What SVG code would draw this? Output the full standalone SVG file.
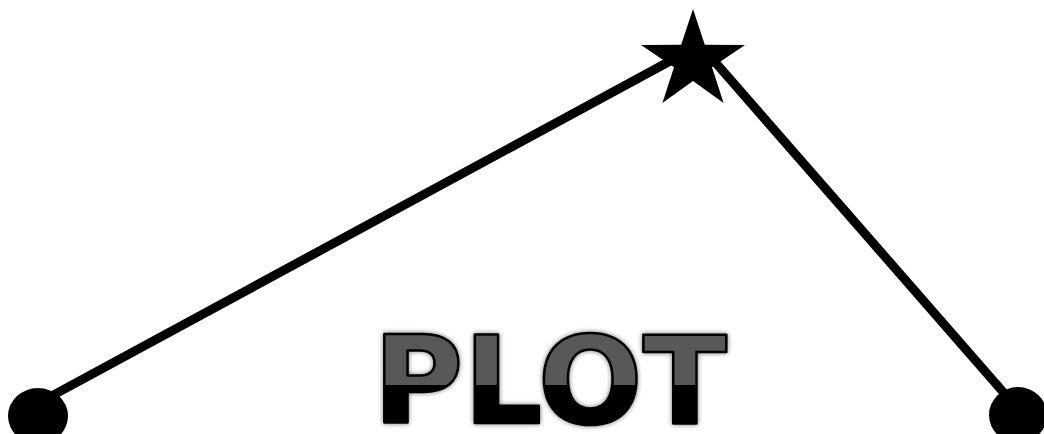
<svg xmlns="http://www.w3.org/2000/svg" width="1044" height="434" viewBox="0 0 1044 434">
  <style>
    .conn { stroke: #000; stroke-width: 9; stroke-linecap: round; fill: none; }
    .dot { fill: #000; }
    .star { fill: #000; }
    .logo { font-family: "DejaVu Sans", "Liberation Sans", sans-serif; font-weight: bold; font-size: 121px; fill: url(#halfFill); stroke: #000; stroke-width: 2.5; stroke-linejoin: round; }
  </style>
  <defs>
    <linearGradient id="halfFill" gradientUnits="userSpaceOnUse" x1="0" y1="335" x2="0" y2="423">
      <stop offset="0" stop-color="#585858"/>
      <stop offset="0.568" stop-color="#585858"/>
      <stop offset="0.568" stop-color="#000000"/>
      <stop offset="1" stop-color="#000000"/>
    </linearGradient>
    <filter id="glow" x="-10%" y="-20%" width="120%" height="140%">
      <feGaussianBlur in="SourceAlpha" stdDeviation="2.5" result="b"/>
      <feComponentTransfer in="b" result="s"><feFuncA type="linear" slope="0.55"/></feComponentTransfer>
      <feMerge><feMergeNode in="s"/><feMergeNode in="SourceGraphic"/></feMerge>
    </filter>
  </defs>
  <rect x="0" y="0" width="1044" height="434" fill="#ffffff"/>
  <g id="connectors">
    <line class="conn" x1="38" y1="403.4" x2="672" y2="60"/>
    <line class="conn" x1="715" y1="62" x2="1018" y2="409"/>
  </g>
  <g id="star">
    <polygon class="star" points="693,9 704.8,44.8 745,44.9 712,67.2 723.6,103.1 693,81 662.4,103.1 674,67.2 641,44.9 681.2,44.8"/>
  </g>
  <g id="dot-left">
    <ellipse class="dot" cx="38" cy="416" rx="30" ry="28"/>
  </g>
  <g id="dot-right">
    <ellipse class="dot" cx="1018" cy="415" rx="29" ry="28"/>
  </g>
  <g id="plot-logo" filter="url(#glow)">
    <text class="logo" x="373" y="423" textLength="354" lengthAdjust="spacingAndGlyphs">PLOT</text>
  </g>
</svg>
